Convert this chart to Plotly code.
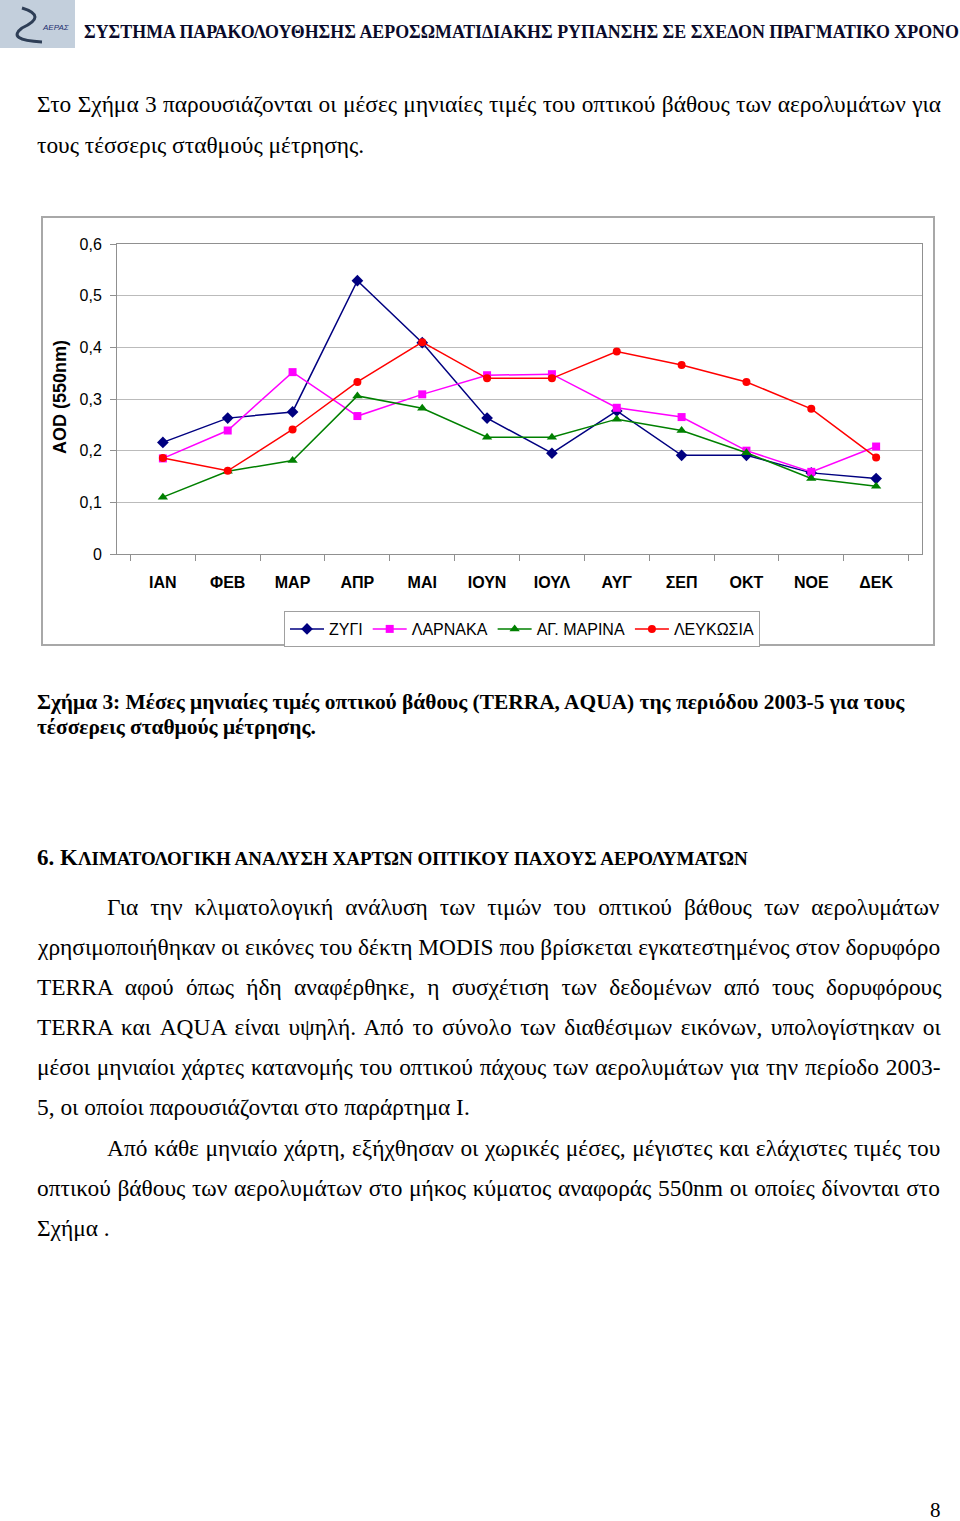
import plotly.graph_objects as go

months = ["ΙΑΝ", "ΦΕΒ", "ΜΑΡ", "ΑΠΡ", "ΜΑΙ", "ΙΟΥΝ", "ΙΟΥΛ", "ΑΥΓ", "ΣΕΠ", "ΟΚΤ", "ΝΟΕ", "ΔΕΚ"]
zygi = [0.216, 0.263, 0.275, 0.529, 0.409, 0.263, 0.195, 0.277, 0.191, 0.191, 0.157, 0.146]
larnaka = [0.185, 0.239, 0.352, 0.267, 0.309, 0.346, 0.348, 0.283, 0.265, 0.200, 0.159, 0.208]
ag_marina = [0.110, 0.160, 0.181, 0.306, 0.282, 0.226, 0.226, 0.261, 0.239, 0.196, 0.146, 0.131]
lefkosia = [0.186, 0.161, 0.241, 0.333, 0.410, 0.340, 0.340, 0.392, 0.366, 0.333, 0.281, 0.187]
y_ticks = [0, 0.1, 0.2, 0.3, 0.4, 0.5, 0.6]

series = [
    ("ΖΥΓΙ", zygi, "#000080", "diamond", 9),
    ("ΛΑΡΝΑΚΑ", larnaka, "#FF00FF", "square", 8),
    ("ΑΓ. ΜΑΡΙΝΑ", ag_marina, "#008000", "triangle-up", 9),
    ("ΛΕΥΚΩΣΙΑ", lefkosia, "#FF0000", "circle", 8),
]

W, H = 960, 1521
PL, PR, PT, PB = 117, 922, 244, 554


def X(p):
    return (p - PL) / (PR - PL)


def Y(p):
    return (PB - p) / (PB - PT)


fig = go.Figure()
for name, vals, col, sym, sz in series:
    fig.add_trace(go.Scatter(
        x=months, y=vals, name=name, mode="lines+markers",
        line=dict(color=col, width=1.5),
        marker=dict(symbol=sym, size=sz, color=col),
    ))

SANS = "Liberation Sans, Arial, sans-serif"
SERIF = "Liberation Serif, Times New Roman, serif"

fig.update_layout(
    width=W, height=H,
    margin=dict(l=PL, r=W - PR, t=PT, b=H - PB, pad=0),
    paper_bgcolor="white", plot_bgcolor="white",
    separators=",.",
    showlegend=True,
    legend=dict(
        orientation="h", x=X(522), y=Y(611), xanchor="center", yanchor="top",
        bordercolor="#A0A0A0", borderwidth=1, bgcolor="white",
        font=dict(family=SANS, size=16, color="black"),
        itemwidth=34, tracegroupgap=0,
    ),
    font=dict(family=SANS, color="black"),
)
fig.update_xaxes(
    showline=True, linecolor="#909090", linewidth=1, mirror=True,
    ticks="outside", tickson="boundaries", ticklen=6, tickcolor="#909090",
    showgrid=False, tickfont=dict(family=SANS, size=16, color="black", weight="bold"),
    ticklabelstandoff=14, fixedrange=True,
)
fig.update_yaxes(
    range=[0, 0.6], tickvals=y_ticks, showline=True, linecolor="#909090", linewidth=1,
    mirror=True, ticks="outside", ticklen=6, tickcolor="#909090",
    showgrid=True, gridcolor="#BBBBBB", gridwidth=1, zeroline=False,
    tickfont=dict(family=SANS, size=16, color="black"), ticklabelstandoff=5,
    fixedrange=True,
)

shapes = []
# outer chart frame
shapes.append(dict(type="rect", xref="paper", yref="paper", x0=X(42), x1=X(934), y0=Y(645), y1=Y(217),
                   line=dict(color="#A8A8A8", width=2), layer="below"))
# logo
shapes.append(dict(type="rect", xref="paper", yref="paper", x0=X(0), x1=X(75), y0=Y(48), y1=Y(0),
                   line=dict(width=0), fillcolor="#C3CFDC", layer="below"))
path = "M {},{} Q {},{} {},{} Q {},{} {},{}".format(
    X(22), Y(8), X(48), Y(16), X(22), Y(28), X(6), Y(40), X(42), Y(42))
shapes.append(dict(type="path", xref="paper", yref="paper", path=path,
                   line=dict(color="#2E3E56", width=3)))
fig.update_layout(shapes=shapes)

ann = []


def text(x, y, s, size, family=SERIF, anchor="left", color="black", bold=False, angle=0, ws=0):
    if ws:
        s = "<span style='word-spacing:{:.2f}px'>{}</span>".format(ws, s)
    ann.append(dict(x=X(x), y=Y(y), xref="paper", yref="paper", text=s, showarrow=False,
                    xanchor=anchor, yanchor="middle", textangle=angle,
                    font=dict(family=family, size=size, color=color, weight="bold" if bold else "normal")))


text(56, 27, "<i>ΑΕΡΑΣ</i>", 8, family=SANS, anchor="center", color="#1E2E6E")
text(82, 32, "ΣΥΣΤΗΜΑ ΠΑΡΑΚΟΛΟΥΘΗΣΗΣ ΑΕΡΟΣΩΜΑΤΙΔΙΑΚΗΣ ΡΥΠΑΝΣΗΣ ΣΕ ΣΧΕΔΟΝ ΠΡΑΓΜΑΤΙΚΟ ΧΡΟΝΟ",
     17.9, color="#0A0A2A", bold=True)

BODY = 23.4
text(35, 105, "Στο Σχήμα 3 παρουσιάζονται οι μέσες μηνιαίες τιμές του οπτικού βάθους των αερολυμάτων για", BODY, ws=0.5)
text(35, 145, "τους τέσσερις σταθμούς μέτρησης.", BODY)

text(60, 397, "AOD (550nm)", 18, family=SANS, anchor="center", bold=True, angle=-90)

text(35, 702, "Σχήμα 3: Μέσες μηνιαίες τιμές οπτικού βάθους (TERRA, AQUA) της περιόδου 2003-5 για τους", 21.4, bold=True)
text(35, 727, "τέσσερεις σταθμούς μέτρησης.", 21.4, bold=True)

text(35, 857, "6. Κ<span style='font-size:19px'>ΛΙΜΑΤΟΛΟΓΙΚΗ ΑΝΑΛΥΣΗ ΧΑΡΤΩΝ ΟΠΤΙΚΟΥ ΠΑΧΟΥΣ ΑΕΡΟΛΥΜΑΤΩΝ</span>", 23, bold=True)

body = [
    (105, 907, "Για την κλιματολογική ανάλυση των τιμών του οπτικού βάθους των αερολυμάτων", 6.2),
    (35, 947, "χρησιμοποιήθηκαν οι εικόνες του δέκτη MODIS που βρίσκεται εγκατεστημένος στον δορυφόρο", 0),
    (35, 987, "TERRA αφού όπως ήδη αναφέρθηκε, η συσχέτιση των δεδομένων από τους δορυφόρους", 6.4),
    (35, 1027, "TERRA και AQUA είναι υψηλή. Από το σύνολο των διαθέσιμων εικόνων, υπολογίστηκαν οι", 2.75),
    (35, 1067, "μέσοι μηνιαίοι χάρτες κατανομής του οπτικού πάχους των αερολυμάτων για την περίοδο 2003-", 1.0),
    (35, 1107, "5, οι οποίοι παρουσιάζονται στο παράρτημα Ι.", 0),
    (105, 1148, "Από κάθε μηνιαίο χάρτη, εξήχθησαν οι χωρικές μέσες, μέγιστες και ελάχιστες τιμές του", 0.8),
    (35, 1188, "οπτικού βάθους των αερολυμάτων στο μήκος κύματος αναφοράς 550nm οι οποίες δίνονται στο", 0.8),
    (35, 1228, "Σχήμα .", 0),
]
for x, y, s, ws in body:
    text(x, y, s, BODY, ws=ws)

text(935, 1510, "8", 21, anchor="center")

fig.update_layout(annotations=ann)
fig.write_html("out.html", config={"displayModeBar": False},
               post_script="document.body.style.margin='0px';document.body.style.overflow='hidden';")
